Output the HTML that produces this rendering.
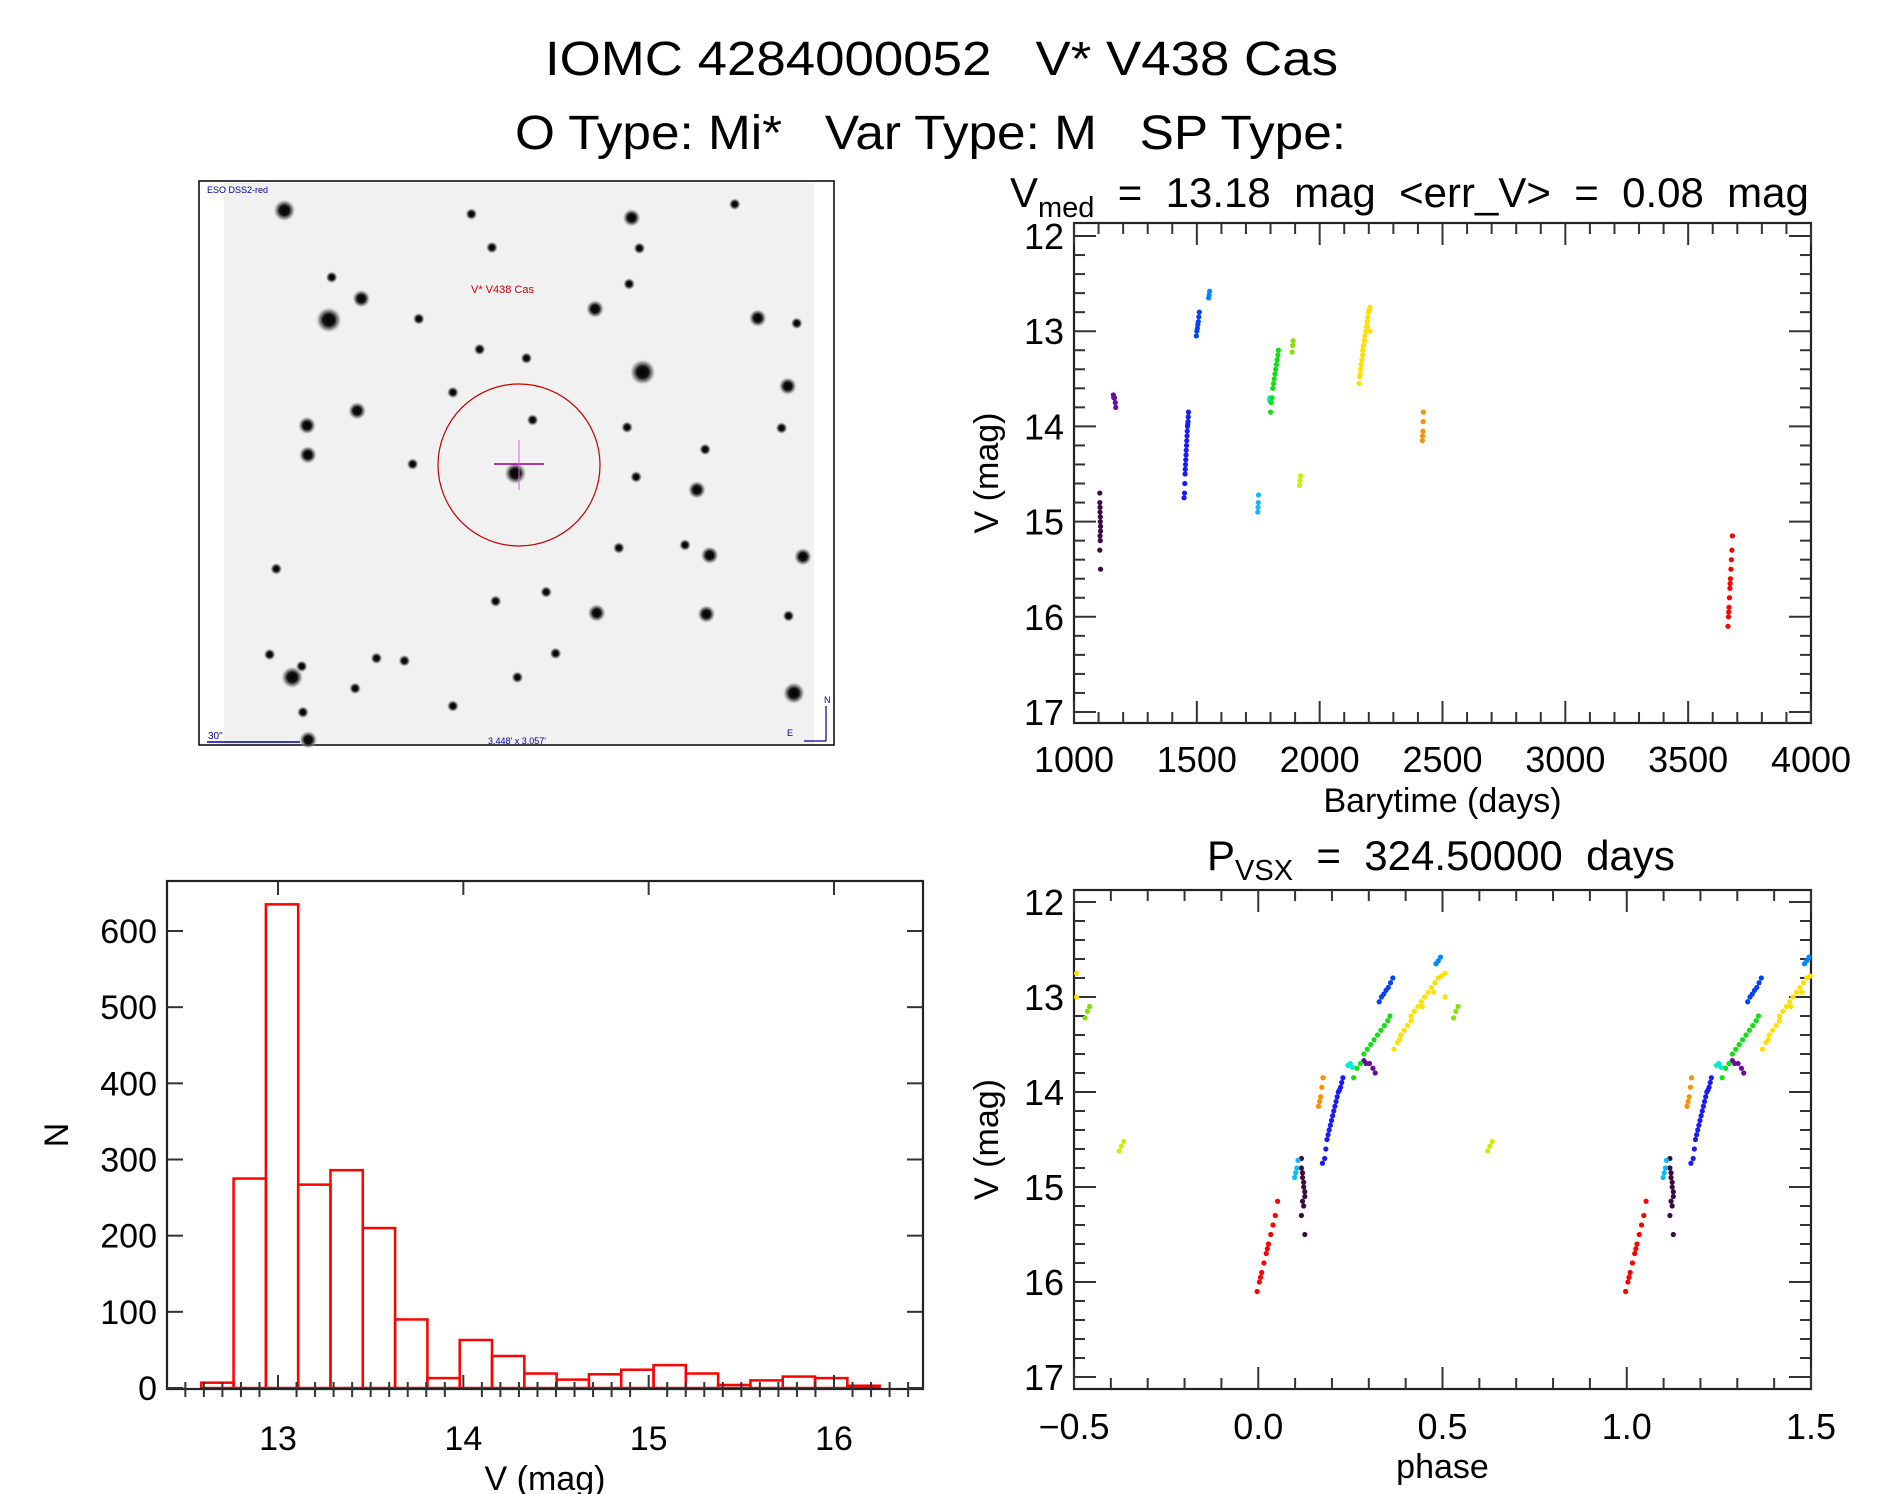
<!DOCTYPE html>
<html><head><meta charset="utf-8">
<style>
html,body{margin:0;padding:0;background:#fff;}
svg{display:block;font-family:"Liberation Sans Narrow","Liberation Sans",sans-serif;}
</style></head>
<body>
<svg id="fig" width="1889" height="1494" viewBox="0 0 1889 1494" xmlns="http://www.w3.org/2000/svg">
<defs>
<radialGradient id="starG"><stop offset="0" stop-color="#000"/><stop offset="0.45" stop-color="#111"/><stop offset="0.75" stop-color="#777" stop-opacity="0.7"/><stop offset="1" stop-color="#ccc" stop-opacity="0"/></radialGradient>
</defs>
<rect width="1889" height="1494" fill="#fff"/>
<text x="545" y="75" font-size="48" textLength="793" lengthAdjust="spacingAndGlyphs" xml:space="preserve">IOMC 4284000052   V* V438 Cas</text>
<text x="515" y="149" font-size="48" textLength="831" lengthAdjust="spacingAndGlyphs" xml:space="preserve">O Type: Mi*   Var Type: M   SP Type:</text>
<g id="img"></g>
<g id="hist"></g>
<g id="ts"></g>
<g id="ph"></g>
<text x="1010" y="207" font-size="42" xml:space="preserve">V<tspan font-size="29" dy="10">med</tspan><tspan dy="-10" xml:space="preserve">  =  13.18  mag  &lt;err_V&gt;  =  0.08  mag</tspan></text>
<text x="1207" y="870" font-size="42" xml:space="preserve">P<tspan font-size="29" dy="10">VSX</tspan><tspan dy="-10" xml:space="preserve">  =  324.50000  days</tspan></text>
</svg>
<script>
// ---------- histogram data ----------
const histStart = 12.586;
const histBin = 0.1743;
const histCounts = [7,275,635,267,286,210,90,13,63,42,19,11,18,24,30,19,4,10,15,13,3];
const histXTicks = [13,14,15,16];
const histYTicks = [0,100,200,300,400,500,600];
// ---------- light curve data (clusters) ----------
const clusterColors = ["#3a0a40","#6a0aa0","#1a1aff","#0040ff","#0088ff","#10b8ff","#00f0d0","#10e010","#88e000","#c8f000","#ffe000","#ff9000","#ff0000"];
const clusterT = [
 [1105,1105,1106,1106,1107,1107,1108,1108,1106,1107,1105,1108],
 [1160,1162,1165,1168,1170],
 [1448,1450,1451,1452,1453,1454,1455,1456,1457,1458,1459,1460,1461,1462,1463,1464,1465,1466],
 [1498,1500,1502,1504,1506,1508,1510],
 [1548,1550,1552],
 [1748,1749,1750,1751],
 [1795,1797,1799],
 [1800,1803,1806,1809,1812,1815,1818,1821,1824,1827,1830,1832],
 [1888,1890,1892],
 [1918,1920,1922],
 [2160,2163,2166,2169,2172,2175,2178,2181,2184,2187,2190,2193,2196,2199,2202,2205,2165,2175,2185,2195,2205],
 [2418,2419,2420,2421,2422],
 [3662,3664,3666,3668,3670,3672,3674,3676,3678,3680,3665,3671]
];
const clusterV = [
 [14.7,14.8,14.85,14.9,14.95,15.0,15.05,15.1,15.15,15.2,15.3,15.5],
 [13.67,13.7,13.7,13.75,13.8],
 [14.75,14.7,14.6,14.5,14.45,14.4,14.35,14.3,14.25,14.2,14.15,14.1,14.05,14.0,13.98,13.95,13.9,13.85],
 [13.05,13.0,12.97,12.93,12.9,12.85,12.8],
 [12.65,12.62,12.58],
 [14.9,14.85,14.8,14.72],
 [13.72,13.7,13.74],
 [13.85,13.75,13.7,13.6,13.55,13.5,13.45,13.4,13.35,13.3,13.25,13.2],
 [13.22,13.15,13.1],
 [14.62,14.57,14.52],
 [13.55,13.48,13.4,13.35,13.3,13.2,13.15,13.1,13.05,13.0,12.95,12.9,12.85,12.8,12.78,12.75,13.45,13.25,13.1,12.95,13.0],
 [14.15,14.1,14.05,13.95,13.85],
 [16.1,16.0,15.9,15.8,15.7,15.6,15.5,15.4,15.3,15.15,15.95,15.65]
];
const period = 324.5;
const epoch = 3663;
const tsXTicks = [1000,1500,2000,2500,3000,3500,4000];
const magTicks = [12,13,14,15,16,17];
const phXTicks = [-0.5,0.0,0.5,1.0,1.5];
const phXLabels = ["\u22120.5","0.0","0.5","1.0","1.5"];
// ---------- sky image stars (zoom-space coords) ----------
const starX = [208,316,395,323,385,263,265,1053,1072,713,964,1080,1360,1455,1433,1418,1232,1212,770,1243,1470,968,1235,1448,227,250,380,618,868,722,253,266,535,683,797,1042,1064,812,520,618,172,500,432,775,1435,1304,663,1047,188,845,1183,1022];
const starY = [80,378,320,262,625,665,745,100,183,181,348,520,373,387,558,672,730,840,795,1018,1022,1175,1178,1393,1350,1320,1380,1428,1285,1143,1445,1520,375,458,482,670,805,650,770,575,1288,1305,1298,1350,1183,63,90,280,1055,1118,990,998];
const starR = [11,13,9,6,9,9,9,9,6,6,9,13,9,6,9,6,6,9,11,9,9,9,9,11,11,6,6,6,6,6,6,9,6,6,6,6,6,6,6,6,6,6,6,6,6,6,6,6,6,6,6,6];

const NS="http://www.w3.org/2000/svg";
function mk(tag, attrs, parent){const e=document.createElementNS(NS,tag);for(const k in attrs)e.setAttribute(k,attrs[k]);parent.appendChild(e);return e;}
function txt(s,attrs,parent){const e=mk('text',attrs,parent);e.textContent=s;return e;}

// ---------- Sky image ----------
(function(){
 const g=document.getElementById('img');
 const bg=mk('rect',{x:199,y:181,width:635,height:564,fill:'#fff',stroke:'#000','stroke-width':1.5},g);
 
 
 const sky=mk('rect',{x:224,y:183,width:590,height:561,fill:'#f1f1f1'},g);
 
 
 for(let i=0;i<starX.length;i++){
  const c=mk('circle',{cx:199+starX[i]/2.434,cy:181+starY[i]/2.72,r:starR[i],fill:'url(#starG)'},g);
  
  
 }
 const ring=mk('circle',{cx:519,cy:465,r:81,fill:'none',stroke:'#c00000','stroke-width':1.2},g);
 
 
 mk('line',{x1:494,y1:464,x2:544,y2:464,stroke:'#900090','stroke-width':1.5},g);
 mk('line',{x1:519,y1:440,x2:519,y2:490,stroke:'#e060e0','stroke-width':1},g);
 const lab=txt('V* V438 Cas',{x:471,y:293,'font-size':11,fill:'#d00000'},g);
 
 
 const eso=txt('ESO DSS2-red',{x:207,y:193,'font-size':9,fill:'#0000a0'},g);
 
 
 mk('line',{x1:207,y1:742,x2:300,y2:742,stroke:'#0000a0','stroke-width':1.5},g);
 txt('30"',{x:208,y:739,'font-size':10,fill:'#0000a0'},g);
 txt("3.448' x 3.057'",{x:488,y:744,'font-size':9,fill:'#0000a0'},g);
 mk('line',{x1:826,y1:741,x2:826,y2:706,stroke:'#0000a0','stroke-width':1.2},g);
 mk('line',{x1:826,y1:741,x2:804,y2:741,stroke:'#0000a0','stroke-width':1.2},g);
 txt('N',{x:824,y:703,'font-size':9,fill:'#0000a0'},g);
 txt('E',{x:787,y:736,'font-size':9,fill:'#0000a0'},g);
})();

// ---------- generic axis frame ----------
function frame(g,L,R,T,B){
 const r=mk('rect',{x:L,y:T,width:R-L,height:B-T,fill:'none',stroke:'#222','stroke-width':2.2},g);
 
 
}
function tick(g,x1,y1,x2,y2){mk('line',{x1,y1,x2,y2,stroke:'#333','stroke-width':2},g);}

// ---------- Histogram ----------
(function(){
 const g=document.getElementById('hist');
 const L=167,R=923,T=881,B=1389;
 const sx=v=>278+(v-13)*(834-278)/3;
 const sy=n=>1388-n*(1388-931)/600;
 for(let i=0;i<histCounts.length;i++){
  const x0=sx(histStart+i*histBin), x1=sx(histStart+(i+1)*histBin);
  const b=mk('rect',{x:x0,y:sy(histCounts[i]),width:x1-x0,height:sy(0)-sy(histCounts[i]),fill:'none',stroke:'#ff0000','stroke-width':2.5},g);
  
  
 }
 frame(g,L,R,T,B);
 for(let v=12.5;v<=16.45;v+=0.1){const x=sx(v);const maj=Math.abs(v-Math.round(v))<0.01;tick(g,x,B,x,B-(maj?14:7)); tick(g,x,B,x,B+(maj?0:8));}
 histXTicks.forEach(v=>{const x=sx(v);tick(g,x,T,x,T+14);
  const t=txt(String(v),{x:x,y:1450,'font-size':34,'text-anchor':'middle'},g);
  
  });
 histYTicks.forEach(n=>{const y=sy(n);tick(g,L,y,L+16,y);tick(g,R,y,R-16,y);
  const t=txt(String(n),{x:157,y:y+12,'font-size':34,'text-anchor':'end'},g);
  
  });
 const xl=txt('V (mag)',{x:545,y:1490,'font-size':34,'text-anchor':'middle','xml:space':'preserve'},g);
 
 
 const yl=txt('N',{x:0,y:0,'font-size':34,'text-anchor':'middle',transform:'translate(68,1135) rotate(-90)'},g);
 
 
})();

// ---------- magnitude axes helper ----------
function magAxes(g,L,R,T,B,sy,minorX){
 frame(g,L,R,T,B);
 for(let v=12;v<=17.01;v+=0.2){const y=sy(v);const maj=Math.abs(v-Math.round(v))<0.01;const len=maj?22:11;
  tick(g,L,y,L+len,y);tick(g,R,y,R-len,y);}
 minorX.forEach(x=>{tick(g,x.p,B,x.p,B-x.len);tick(g,x.p,T,x.p,T+x.len);});
 magTicks.forEach(v=>{const t=txt(String(v),{x:L-10,y:sy(v)+13,'font-size':36,'text-anchor':'end'},g);
  
  });
 const yl=txt('V (mag)',{x:0,y:0,'font-size':34,'text-anchor':'middle','xml:space':'preserve',transform:'translate('+(L-76)+','+((T+B)/2)+') rotate(-90)'},g);
 
 
}
function dot(g,x,y,c){const d=mk('circle',{cx:x,cy:y,r:2.6,fill:c},g);
 
 }

// ---------- Light curve ----------
(function(){
 const g=document.getElementById('ts');
 const L=1074,R=1811,T=223,B=723;
 const sx=t=>L+(t-1000)*(R-L)/3000;
 const sy=v=>236+(v-12)*(712-236)/5;
 const mx=[];for(let t=1000;t<=4000;t+=100){mx.push({p:sx(t),len:(t%500===0)?22:11});}
 magAxes(g,L,R,T,B,sy,mx);
 tsXTicks.forEach(t=>{const l=txt(String(t),{x:sx(t),y:772,'font-size':36,'text-anchor':'middle'},g);
  
  });
 const xl=txt('Barytime (days)',{x:(L+R)/2,y:812,'font-size':34,'text-anchor':'middle','xml:space':'preserve'},g);
 
 
 for(let c=0;c<clusterT.length;c++)for(let i=0;i<clusterT[c].length;i++)dot(g,sx(clusterT[c][i]),sy(clusterV[c][i]),clusterColors[c]);
})();

// ---------- Phased curve ----------
(function(){
 const g=document.getElementById('ph');
 const L=1074,R=1811,T=890,B=1389;
 const sx=p=>L+(p+0.5)*(R-L)/2;
 const sy=v=>902+(v-12)*(1377-902)/5;
 const mx=[];for(let k=-5;k<=15;k++){mx.push({p:sx(k/10),len:(k%5===0)?22:11});}
 magAxes(g,L,R,T,B,sy,mx);
 phXTicks.forEach((p,i)=>{const l=txt(phXLabels[i],{x:sx(p),y:1439,'font-size':36,'text-anchor':'middle'},g);
  
  });
 const xl=txt('phase',{x:(L+R)/2,y:1478,'font-size':34,'text-anchor':'middle'},g);
 
 
 for(let c=0;c<clusterT.length;c++)for(let i=0;i<clusterT[c].length;i++){
  let p=((clusterT[c][i]-epoch)/period)%1; if(p<0)p+=1;
  [p-1,p,p+1].forEach(q=>{if(q>=-0.5&&q<=1.5)dot(g,sx(q),sy(clusterV[c][i]),clusterColors[c]);});
 }
})();
</script>
</body></html>
